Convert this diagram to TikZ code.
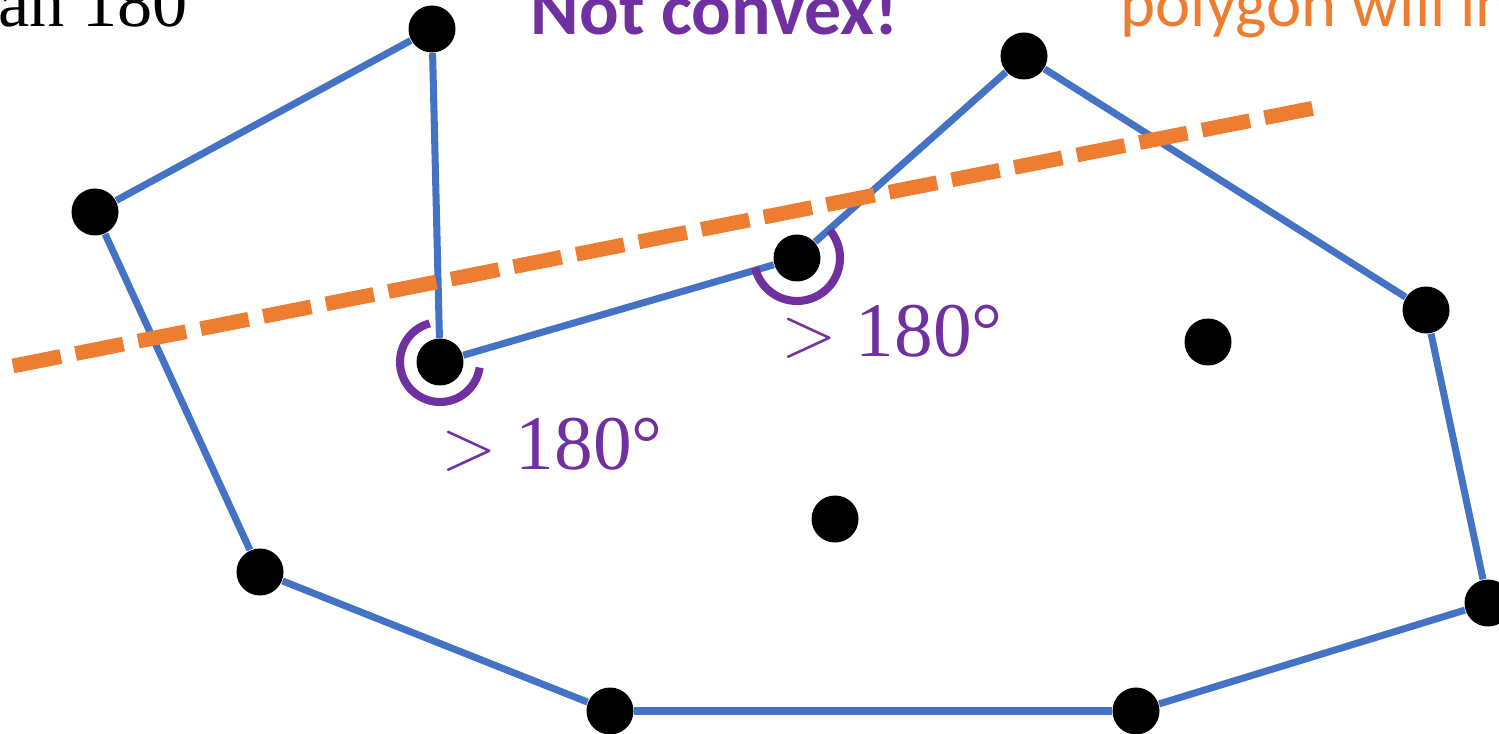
\documentclass[tikz,border=0pt]{standalone}
\usepackage{fontspec}
\setmainfont{Liberation Serif}
\newfontfamily\calfont{Carlito}
\usetikzlibrary{positioning}
\definecolor{hullblue}{RGB}{68, 114, 196}
\definecolor{hullorange}{RGB}{237, 125, 49}
\definecolor{hullpurple}{RGB}{112, 48, 160}
\tikzset{
  pt/.style={circle, fill=black, inner sep=0pt, minimum size=0.47cm},
  edge/.style={hullblue, line width=2pt},
  cut/.style={hullorange, line width=4.2pt, dash pattern=on 0.488cm off 0.15cm},
  reflex/.style={hullpurple, line width=2.3pt},
  deg/.style={hullpurple, font=\fontsize{22}{26}\selectfont}
}
\begin{document}
\begin{tikzpicture}
  \useasboundingbox (0,0) rectangle (14.99,-7.34);
  \clip (0,0) rectangle (14.99,-7.34);
  % points
  \node[pt] (p1) at (4.32,-0.29) {};
  \node[pt] (p2) at (0.95,-2.12) {};
  \node[pt] (p3) at (2.60,-5.72) {};
  \node[pt] (p4) at (6.10,-7.11) {};
  \node[pt] (p5) at (11.36,-7.11) {};
  \node[pt] (p6) at (14.88,-6.03) {};
  \node[pt] (p7) at (14.26,-3.10) {};
  \node[pt] (p8) at (10.24,-0.56) {};
  \node[pt] (p9) at (7.97,-2.58) {};
  \node[pt] (p10) at (4.40,-3.62) {};
  \node[pt] (q1) at (12.08,-3.42) {};
  \node[pt] (q2) at (8.35,-5.19) {};
  % polygon
  \draw[edge] (p1) -- (p2);
  \draw[edge] (p2) -- (p3);
  \draw[edge] (p3) -- (p4);
  \draw[edge] (p4) -- (p5);
  \draw[edge] (p5) -- (p6);
  \draw[edge] (p6) -- (p7);
  \draw[edge] (p7) -- (p8);
  \draw[edge] (p8) -- (p9);
  \draw[edge] (p9) -- (p10);
  \draw[edge] (p10) -- (p1);
  % cutting line
  \coordinate (c1) at (0.13,-3.66);
  \coordinate (c2) at (13.14,-1.08);
  \draw[cut] (c1) -- (c2);
  % reflex angles
  \draw[reflex] ([shift={(105:0.40)}]p10.center) arc[start angle=105, end angle=352, radius=0.40];
  \draw[reflex] ([shift={(193:0.43)}]p9.center) arc[start angle=193, end angle=400, radius=0.43];
  \node[deg, anchor=base] (a10) at (5.52,-4.70) {$>$ 180°};
  \node[deg, anchor=base] (a9) at (8.92,-3.57) {$>$ 180°};
  % top texts
  \node[anchor=base west, inner sep=0pt, font=\fontsize{20}{24}\selectfont] (t1) at (-0.02,-0.27) {an 180};
  \node[anchor=base west, inner sep=0pt, hullpurple, font=\calfont\bfseries\fontsize{21}{25}\selectfont] (t2) at (5.30,-0.35) {Not convex!};
  \node[anchor=base west, inner sep=0pt, hullorange, font=\calfont\fontsize{19}{23}\selectfont] (t3) at (11.20,-0.27) {polygon will int};
\end{tikzpicture}
\end{document}
